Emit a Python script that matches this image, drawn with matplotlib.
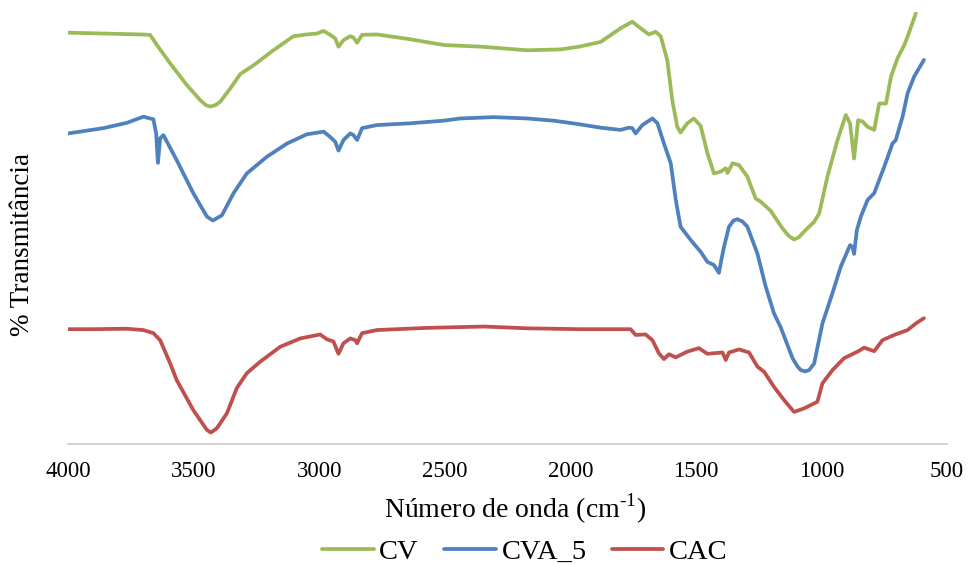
import matplotlib
matplotlib.use("Agg")
import matplotlib.pyplot as plt

plt.rcParams.update({
    "font.family": ["Liberation Serif", "DejaVu Serif"],
    "mathtext.fontset": "custom",
    "mathtext.rm": "Liberation Serif",
})

# FTIR spectra (wavenumber cm-1, arbitrary % T units)
cv_wn = [3999, 3713, 3673, 3646, 3593, 3527, 3474, 3450, 3434, 3414, 3394, 3354, 3314,
         3261, 3182, 3102, 3049, 3009, 2982, 2956, 2936, 2923, 2903, 2876, 2863,
         2849, 2829, 2770, 2637, 2504, 2351, 2172, 2039, 1966, 1879, 1800, 1753,
         1720, 1687, 1660, 1640, 1614, 1594, 1574, 1561, 1534, 1508, 1481, 1454,
         1428, 1401, 1381, 1374, 1354, 1328, 1295, 1262, 1242, 1202, 1155, 1130,
         1109, 1090, 1069, 1029, 1009, 976, 936, 903, 886, 870, 854, 836, 816, 790,
         770, 743, 723, 697, 670, 657, 624]
cv_t = [93.5, 93.1, 93.0, 90.7, 86.5, 81.6, 78.2, 77.0, 76.7, 77.0, 77.8, 80.8, 84.1,
        86.1, 89.5, 92.7, 93.1, 93.3, 93.9, 93.0, 92.2, 90.3, 91.8, 92.7, 92.4,
        91.2, 93.0, 93.1, 92.0, 90.7, 90.3, 89.5, 89.7, 90.3, 91.4, 94.5, 96.0,
        94.5, 93.1, 93.7, 92.7, 87.3, 78.2, 72.1, 70.8, 72.9, 74.0, 72.3, 66.1,
        61.5, 61.9, 62.7, 61.6, 63.8, 63.4, 60.8, 55.8, 55.1, 53.0, 49.0, 47.3,
        46.5, 47.0, 48.3, 50.5, 52.4, 60.8, 69.1, 74.8, 72.9, 64.9, 73.6, 73.3,
        72.1, 71.4, 77.4, 77.4, 83.5, 87.7, 90.7, 92.6, 97.9]

cva_wn = [3999, 3859, 3766, 3700, 3660, 3649, 3642, 3633, 3620, 3567, 3501, 3447,
          3423, 3387, 3341, 3288, 3208, 3128, 3049, 2982, 2956, 2936, 2923, 2903,
          2876, 2863, 2849, 2829, 2770, 2637, 2504, 2438, 2305, 2172, 2066, 1966,
          1879, 1800, 1767, 1753, 1740, 1713, 1673, 1653, 1627, 1600, 1580, 1561,
          1521, 1481, 1454, 1428, 1408, 1398, 1388, 1368, 1350, 1335, 1315, 1295,
          1255, 1222, 1189, 1162, 1115, 1095, 1082, 1065, 1049, 1029, 996, 956,
          923, 886, 876, 870, 859, 843, 816, 790, 750, 717, 704, 677, 657, 631, 592]
cva_t = [70.6, 71.8, 73.0, 74.4, 73.8, 70.6, 63.9, 69.5, 70.2, 64.5, 57.0, 51.7,
         50.8, 52.0, 57.0, 61.5, 65.3, 68.3, 70.4, 71.0, 69.8, 68.7, 66.7, 69.1,
         70.6, 70.2, 69.1, 71.8, 72.5, 72.9, 73.5, 74.0, 74.3, 74.0, 73.5, 72.7,
         71.9, 71.4, 71.9, 71.8, 70.6, 72.5, 74.0, 72.9, 68.3, 63.8, 55.5, 49.4,
         46.4, 43.7, 41.4, 40.7, 38.9, 42.0, 44.8, 49.4, 50.8, 51.1, 50.6, 49.4,
         43.3, 35.8, 29.7, 26.5, 19.5, 17.6, 16.8, 16.5, 16.8, 18.3, 27.4, 34.3,
         40.3, 45.2, 44.8, 43.2, 48.6, 51.7, 55.5, 57.0, 63.0, 68.3, 69.1, 74.4,
         79.7, 83.5, 87.3]

cac_wn = [3999, 3899, 3766, 3700, 3660, 3633, 3593, 3567, 3501, 3447, 3431, 3407,
          3367, 3328, 3288, 3235, 3155, 3075, 2996, 2969, 2943, 2923, 2903, 2876,
          2856, 2849, 2829, 2770, 2570, 2345, 2172, 1966, 1879, 1760, 1740, 1700,
          1673, 1647, 1627, 1607, 1580, 1534, 1488, 1454, 1394, 1381, 1368, 1328,
          1288, 1255, 1228, 1189, 1149, 1109, 1069, 1016, 996, 956, 910, 856, 830,
          790, 757, 710, 657, 624, 592]
cac_t = [26.1, 26.1, 26.2, 25.9, 25.2, 23.6, 18.3, 14.5, 7.7, 3.2, 2.6, 3.6,
         7.0, 12.7, 16.1, 18.7, 22.1, 24.0, 24.9, 23.8, 23.3, 20.5, 22.9, 24.0,
         23.6, 22.9, 25.2, 25.9, 26.4, 26.7, 26.3, 26.1, 26.1, 26.1, 24.8, 24.9,
         23.6, 20.6, 19.3, 20.4, 19.7, 21.0, 21.8, 20.5, 20.8, 19.1, 20.8, 21.5,
         20.8, 17.6, 16.4, 13.0, 10.0, 7.3, 8.1, 9.6, 13.8, 16.8, 19.5, 21.0, 21.9,
         21.1, 23.6, 24.8, 25.9, 27.4, 28.6]

series = [("CV", cv_wn, cv_t, "#9BBB59"),
          ("CVA_5", cva_wn, cva_t, "#4F81BD"),
          ("CAC", cac_wn, cac_t, "#C0504D")]
xticks = [4000, 3500, 3000, 2500, 2000, 1500, 1000, 500]

fig = plt.figure(figsize=(9.68, 5.65), dpi=100)
ax = fig.add_axes([68 / 968, 121 / 565, 879 / 968, 432 / 565])

for name, wn, t, col in series:
    ax.plot(wn, t, color=col, lw=2.7, label=name,
            solid_joinstyle="round", solid_capstyle="round")

ax.set_xlim(4000, 500)
ax.set_ylim(0, 98.2)
ax.set_xticks(xticks)
ax.set_xticklabels([str(v) for v in xticks], fontsize=16.5)
ax.set_yticks([])
ax.tick_params(axis="x", length=0, pad=12)
for s in ["top", "right", "left"]:
    ax.spines[s].set_visible(False)
ax.spines["bottom"].set_color("#C4C4C4")
ax.spines["bottom"].set_linewidth(1.1)

fig.text(515 / 968, 1 - 509 / 565, "Número de onda (cm$^{\\text{-1}}$)",
         ha="center", va="center", fontsize=20)
fig.text(23 / 968, 1 - 245 / 565, "% Transmitância", rotation=90,
         ha="center", va="center", fontsize=19.5)

fig.legend(loc="center", bbox_to_anchor=(525 / 968, 1 - 552 / 565), ncol=3,
           frameon=False, fontsize=20.5, handlelength=1.8, handletextpad=0.2,
           columnspacing=0.9, borderaxespad=0, borderpad=0)

fig.savefig("out.png", dpi=100)
